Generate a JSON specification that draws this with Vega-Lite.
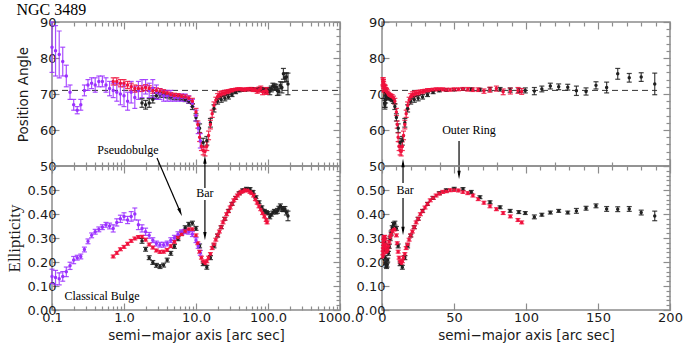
{
"$schema": "https://vega.github.io/schema/vega-lite/v6.json",
"background": "white",
"padding": {"left": 4, "top": 1, "right": 2, "bottom": 2},
"autosize": {"type": "pad"},
"bounds": "flush",
"columns": 2,
"spacing": {"row": 0, "column": 42},
"config": {
  "view": {"stroke": "#8c8c8c", "strokeWidth": 1.5},
  "axis": {"domain": false, "grid": false, "tickColor": "#8c8c8c", "tickWidth": 1.2, "labelFont": "DejaVu Sans", "labelFontSize": 13, "labelColor": "#1a1a1a", "titleFont": "DejaVu Sans", "titleFontSize": 13.5, "titleFontWeight": "normal", "titleColor": "#1a1a1a"}
},
"datasets": {
  "prof": [
    {"s":"k","r":1.778,"pa":67.5,"pae":1.2,"e":0.288,"ee":0.01},
    {"s":"k","r":1.995,"pa":67,"pae":1.2,"e":0.253,"ee":0.008},
    {"s":"k","r":2.239,"pa":67.5,"pae":1.2,"e":0.218,"ee":0.008},
    {"s":"k","r":2.512,"pa":68.5,"pae":1,"e":0.198,"ee":0.008},
    {"s":"k","r":2.818,"pa":69.5,"pae":0.8,"e":0.186,"ee":0.008},
    {"s":"k","r":3.162,"pa":69.8,"pae":0.7,"e":0.181,"ee":0.008},
    {"s":"k","r":3.548,"pa":69.8,"pae":0.7,"e":0.187,"ee":0.008},
    {"s":"k","r":3.981,"pa":69.5,"pae":0.6,"e":0.208,"ee":0.008},
    {"s":"k","r":4.467,"pa":69.2,"pae":0.6,"e":0.236,"ee":0.008},
    {"s":"k","r":5.012,"pa":69,"pae":0.6,"e":0.265,"ee":0.008},
    {"s":"k","r":5.623,"pa":69,"pae":0.6,"e":0.297,"ee":0.008},
    {"s":"k","r":6.31,"pa":68.8,"pae":0.6,"e":0.321,"ee":0.008},
    {"s":"k","r":7.079,"pa":68.5,"pae":0.6,"e":0.343,"ee":0.008},
    {"s":"k","r":7.943,"pa":68,"pae":0.6,"e":0.357,"ee":0.008},
    {"s":"k","r":8.913,"pa":66.5,"pae":0.8,"e":0.362,"ee":0.008},
    {"s":"k","r":10.0,"pa":63.5,"pae":1,"e":0.34,"ee":0.008},
    {"s":"k","r":11.22,"pa":60.5,"pae":1.2,"e":0.267,"ee":0.008},
    {"s":"k","r":12.59,"pa":56.5,"pae":1.2,"e":0.193,"ee":0.008},
    {"s":"k","r":14.13,"pa":57,"pae":1.2,"e":0.178,"ee":0.008},
    {"s":"k","r":15.85,"pa":62,"pae":1.2,"e":0.218,"ee":0.008},
    {"s":"k","r":17.78,"pa":66,"pae":1,"e":0.267,"ee":0.008},
    {"s":"k","r":19.95,"pa":68,"pae":0.8,"e":0.31,"ee":0.006},
    {"s":"k","r":22.39,"pa":68.5,"pae":0.8,"e":0.345,"ee":0.006},
    {"s":"k","r":25.12,"pa":68.8,"pae":0.7,"e":0.38,"ee":0.006},
    {"s":"k","r":28.18,"pa":69.2,"pae":0.6,"e":0.413,"ee":0.006},
    {"s":"k","r":31.62,"pa":69.8,"pae":0.5,"e":0.442,"ee":0.006},
    {"s":"k","r":35.48,"pa":70.5,"pae":0.4,"e":0.467,"ee":0.006},
    {"s":"k","r":39.81,"pa":71,"pae":0.4,"e":0.487,"ee":0.006},
    {"s":"k","r":44.67,"pa":71.1,"pae":0.3,"e":0.499,"ee":0.006},
    {"s":"k","r":50.12,"pa":71.2,"pae":0.3,"e":0.505,"ee":0.006},
    {"s":"k","r":56.23,"pa":71.3,"pae":0.3,"e":0.504,"ee":0.006},
    {"s":"k","r":62,"pa":71.3,"pae":0.4,"e":0.492,"ee":0.006},
    {"s":"k","r":68,"pa":71.2,"pae":0.4,"e":0.47,"ee":0.006},
    {"s":"k","r":75,"pa":71.3,"pae":0.5,"e":0.449,"ee":0.006},
    {"s":"k","r":82,"pa":71.3,"pae":0.5,"e":0.428,"ee":0.006},
    {"s":"k","r":89,"pa":71.1,"pae":0.6,"e":0.413,"ee":0.006},
    {"s":"k","r":95,"pa":71.0,"pae":0.6,"e":0.408,"ee":0.006},
    {"s":"k","r":99.5,"pa":71.0,"pae":0.7,"e":0.404,"ee":0.006},
    {"s":"k","r":105.8,"pa":70.8,"pae":1,"e":0.388,"ee":0.008},
    {"s":"k","r":111,"pa":71.4,"pae":0.8,"e":0.397,"ee":0.006},
    {"s":"k","r":116.9,"pa":72.2,"pae":0.8,"e":0.406,"ee":0.006},
    {"s":"k","r":122.7,"pa":72,"pae":0.8,"e":0.413,"ee":0.006},
    {"s":"k","r":129,"pa":71.9,"pae":0.8,"e":0.406,"ee":0.006},
    {"s":"k","r":135,"pa":70.9,"pae":1.3,"e":0.413,"ee":0.01},
    {"s":"k","r":141.7,"pa":70.7,"pae":1,"e":0.424,"ee":0.008},
    {"s":"k","r":148.6,"pa":72.4,"pae":1,"e":0.434,"ee":0.008},
    {"s":"k","r":156,"pa":71.8,"pae":1.5,"e":0.421,"ee":0.01},
    {"s":"k","r":163.7,"pa":75.6,"pae":1.5,"e":0.42,"ee":0.01},
    {"s":"k","r":171.7,"pa":74.5,"pae":1.2,"e":0.421,"ee":0.01},
    {"s":"k","r":180,"pa":74.7,"pae":1.2,"e":0.406,"ee":0.01},
    {"s":"k","r":189.4,"pa":72.8,"pae":3,"e":0.392,"ee":0.02},
    {"s":"p","r":0.1,"pa":83,"pae":7,"e":0.14,"ee":0.03},
    {"s":"p","r":0.112,"pa":82,"pae":7,"e":0.135,"ee":0.03},
    {"s":"p","r":0.126,"pa":81,"pae":6.5,"e":0.13,"ee":0.025},
    {"s":"p","r":0.141,"pa":79,"pae":4,"e":0.14,"ee":0.02},
    {"s":"p","r":0.158,"pa":75,"pae":3,"e":0.159,"ee":0.02},
    {"s":"p","r":0.178,"pa":70.5,"pae":2,"e":0.184,"ee":0.015},
    {"s":"p","r":0.2,"pa":67,"pae":1.5,"e":0.208,"ee":0.015},
    {"s":"p","r":0.224,"pa":65.5,"pae":1,"e":0.218,"ee":0.01},
    {"s":"p","r":0.251,"pa":67,"pae":1.5,"e":0.223,"ee":0.01},
    {"s":"p","r":0.282,"pa":71,"pae":1.5,"e":0.252,"ee":0.01},
    {"s":"p","r":0.316,"pa":72.5,"pae":1.5,"e":0.286,"ee":0.01},
    {"s":"p","r":0.355,"pa":73,"pae":1.5,"e":0.311,"ee":0.01},
    {"s":"p","r":0.398,"pa":72.5,"pae":2,"e":0.326,"ee":0.01},
    {"s":"p","r":0.447,"pa":73.5,"pae":1.5,"e":0.336,"ee":0.01},
    {"s":"p","r":0.501,"pa":73.5,"pae":1.5,"e":0.345,"ee":0.01},
    {"s":"p","r":0.562,"pa":72.5,"pae":2,"e":0.355,"ee":0.01},
    {"s":"p","r":0.631,"pa":71.5,"pae":2,"e":0.35,"ee":0.012},
    {"s":"p","r":0.708,"pa":71,"pae":2,"e":0.34,"ee":0.015},
    {"s":"p","r":0.794,"pa":70.5,"pae":2.5,"e":0.365,"ee":0.015},
    {"s":"p","r":0.891,"pa":70,"pae":3,"e":0.38,"ee":0.015},
    {"s":"p","r":1.0,"pa":69.5,"pae":3,"e":0.39,"ee":0.015},
    {"s":"p","r":1.122,"pa":68,"pae":2.5,"e":0.375,"ee":0.015},
    {"s":"p","r":1.259,"pa":70.5,"pae":3,"e":0.39,"ee":0.02},
    {"s":"p","r":1.413,"pa":69,"pae":3,"e":0.4,"ee":0.025},
    {"s":"p","r":1.585,"pa":71,"pae":2.5,"e":0.355,"ee":0.02},
    {"s":"p","r":1.778,"pa":71.5,"pae":2.5,"e":0.34,"ee":0.015},
    {"s":"p","r":1.995,"pa":72,"pae":2,"e":0.326,"ee":0.015},
    {"s":"p","r":2.239,"pa":71,"pae":2,"e":0.311,"ee":0.012},
    {"s":"p","r":2.512,"pa":71.5,"pae":2.5,"e":0.291,"ee":0.01},
    {"s":"p","r":2.818,"pa":70.5,"pae":2,"e":0.277,"ee":0.01},
    {"s":"p","r":3.162,"pa":70,"pae":1.5,"e":0.272,"ee":0.01},
    {"s":"p","r":3.548,"pa":69.5,"pae":1.5,"e":0.272,"ee":0.01},
    {"s":"p","r":3.981,"pa":69.5,"pae":1.5,"e":0.277,"ee":0.01},
    {"s":"p","r":4.467,"pa":69.5,"pae":1.5,"e":0.291,"ee":0.01},
    {"s":"p","r":5.012,"pa":69,"pae":1,"e":0.301,"ee":0.01},
    {"s":"p","r":5.623,"pa":69,"pae":1,"e":0.316,"ee":0.01},
    {"s":"p","r":6.31,"pa":69,"pae":1,"e":0.324,"ee":0.01},
    {"s":"p","r":7.079,"pa":69,"pae":1,"e":0.328,"ee":0.01},
    {"s":"p","r":7.943,"pa":68.5,"pae":1,"e":0.326,"ee":0.01},
    {"s":"p","r":8.913,"pa":67.5,"pae":1,"e":0.316,"ee":0.01},
    {"s":"p","r":10.0,"pa":64,"pae":1.5,"e":0.291,"ee":0.01},
    {"s":"p","r":10.72,"pa":60.5,"pae":1.5,"e":0.267,"ee":0.01},
    {"s":"p","r":11.48,"pa":57,"pae":2,"e":0.238,"ee":0.01},
    {"s":"r","r":0.708,"pa":73.5,"pae":1,"e":0.223,"ee":0.006},
    {"s":"r","r":0.794,"pa":73.5,"pae":1,"e":0.238,"ee":0.006},
    {"s":"r","r":0.891,"pa":73,"pae":1,"e":0.253,"ee":0.006},
    {"s":"r","r":1.0,"pa":73,"pae":1,"e":0.263,"ee":0.006},
    {"s":"r","r":1.122,"pa":72.5,"pae":1,"e":0.276,"ee":0.006},
    {"s":"r","r":1.259,"pa":72,"pae":1,"e":0.288,"ee":0.006},
    {"s":"r","r":1.413,"pa":71.5,"pae":1,"e":0.298,"ee":0.006},
    {"s":"r","r":1.585,"pa":71.5,"pae":0.8,"e":0.304,"ee":0.006},
    {"s":"r","r":1.778,"pa":71.5,"pae":0.8,"e":0.305,"ee":0.006},
    {"s":"r","r":1.995,"pa":71.8,"pae":0.8,"e":0.293,"ee":0.006},
    {"s":"r","r":2.239,"pa":71.5,"pae":0.8,"e":0.273,"ee":0.006},
    {"s":"r","r":2.512,"pa":71,"pae":0.8,"e":0.26,"ee":0.006},
    {"s":"r","r":2.818,"pa":71,"pae":0.7,"e":0.248,"ee":0.006},
    {"s":"r","r":3.162,"pa":70.8,"pae":0.7,"e":0.242,"ee":0.006},
    {"s":"r","r":3.548,"pa":70.5,"pae":0.7,"e":0.243,"ee":0.006},
    {"s":"r","r":3.981,"pa":70.2,"pae":0.6,"e":0.25,"ee":0.006},
    {"s":"r","r":4.467,"pa":69.8,"pae":0.6,"e":0.266,"ee":0.006},
    {"s":"r","r":5.012,"pa":69.6,"pae":0.6,"e":0.284,"ee":0.006},
    {"s":"r","r":5.623,"pa":69.5,"pae":0.6,"e":0.302,"ee":0.006},
    {"s":"r","r":6.31,"pa":69.3,"pae":0.6,"e":0.316,"ee":0.006},
    {"s":"r","r":7.079,"pa":69.2,"pae":0.6,"e":0.328,"ee":0.006},
    {"s":"r","r":7.943,"pa":68.8,"pae":0.6,"e":0.336,"ee":0.006},
    {"s":"r","r":8.913,"pa":68,"pae":0.8,"e":0.336,"ee":0.006},
    {"s":"r","r":10.0,"pa":65,"pae":1,"e":0.311,"ee":0.006},
    {"s":"r","r":10.59,"pa":61.5,"pae":1,"e":0.278,"ee":0.006},
    {"s":"r","r":11.22,"pa":58,"pae":1.2,"e":0.243,"ee":0.006},
    {"s":"r","r":11.89,"pa":55.5,"pae":1.2,"e":0.218,"ee":0.006},
    {"s":"r","r":12.59,"pa":54.3,"pae":1.2,"e":0.201,"ee":0.006},
    {"s":"r","r":13.34,"pa":54,"pae":1.2,"e":0.195,"ee":0.006},
    {"s":"r","r":14.13,"pa":55.5,"pae":1.2,"e":0.203,"ee":0.006},
    {"s":"r","r":14.96,"pa":58.5,"pae":1.2,"e":0.218,"ee":0.006},
    {"s":"r","r":15.85,"pa":61.5,"pae":1.2,"e":0.233,"ee":0.006},
    {"s":"r","r":16.79,"pa":64.5,"pae":1,"e":0.258,"ee":0.006},
    {"s":"r","r":17.78,"pa":66.8,"pae":1,"e":0.273,"ee":0.006},
    {"s":"r","r":18.84,"pa":68.3,"pae":0.8,"e":0.293,"ee":0.006},
    {"s":"r","r":19.95,"pa":69.3,"pae":0.8,"e":0.311,"ee":0.006},
    {"s":"r","r":21.13,"pa":69.8,"pae":0.8,"e":0.327,"ee":0.006},
    {"s":"r","r":22.39,"pa":70,"pae":0.8,"e":0.345,"ee":0.006},
    {"s":"r","r":23.71,"pa":70.2,"pae":0.7,"e":0.365,"ee":0.006},
    {"s":"r","r":25.12,"pa":70.3,"pae":0.7,"e":0.38,"ee":0.006},
    {"s":"r","r":26.61,"pa":70.5,"pae":0.6,"e":0.399,"ee":0.006},
    {"s":"r","r":28.18,"pa":70.6,"pae":0.6,"e":0.412,"ee":0.006},
    {"s":"r","r":29.85,"pa":70.8,"pae":0.5,"e":0.427,"ee":0.006},
    {"s":"r","r":31.62,"pa":71,"pae":0.5,"e":0.442,"ee":0.006},
    {"s":"r","r":33.5,"pa":71.1,"pae":0.4,"e":0.457,"ee":0.006},
    {"s":"r","r":35.48,"pa":71.2,"pae":0.4,"e":0.467,"ee":0.006},
    {"s":"r","r":37.58,"pa":71.3,"pae":0.4,"e":0.477,"ee":0.006},
    {"s":"r","r":39.81,"pa":71.3,"pae":0.4,"e":0.485,"ee":0.006},
    {"s":"r","r":42.17,"pa":71.3,"pae":0.4,"e":0.492,"ee":0.006},
    {"s":"r","r":44.67,"pa":71.2,"pae":0.4,"e":0.495,"ee":0.006},
    {"s":"r","r":47.32,"pa":71.2,"pae":0.4,"e":0.499,"ee":0.006},
    {"s":"r","r":50.12,"pa":71.3,"pae":0.4,"e":0.5,"ee":0.006},
    {"s":"r","r":53.09,"pa":71.3,"pae":0.4,"e":0.498,"ee":0.006},
    {"s":"r","r":56.23,"pa":71.4,"pae":0.4,"e":0.492,"ee":0.006},
    {"s":"r","r":59.57,"pa":71.3,"pae":0.5,"e":0.487,"ee":0.006},
    {"s":"r","r":63.1,"pa":71.2,"pae":0.5,"e":0.477,"ee":0.006},
    {"s":"r","r":66.83,"pa":71.2,"pae":0.5,"e":0.462,"ee":0.006},
    {"s":"r","r":70.79,"pa":70.8,"pae":0.6,"e":0.447,"ee":0.006},
    {"s":"r","r":74.99,"pa":71.2,"pae":0.7,"e":0.432,"ee":0.006},
    {"s":"r","r":79.43,"pa":71.5,"pae":0.7,"e":0.42,"ee":0.006},
    {"s":"r","r":84.14,"pa":70.6,"pae":0.8,"e":0.404,"ee":0.006},
    {"s":"r","r":89.13,"pa":70.8,"pae":0.8,"e":0.39,"ee":0.006},
    {"s":"r","r":94.41,"pa":71,"pae":0.8,"e":0.375,"ee":0.006},
    {"s":"r","r":97,"pa":70.7,"pae":0.8,"e":0.365,"ee":0.006}
  ],
  "ref": [
    {"p":"L","r":0.1,"r2":1000,"v":71},
    {"p":"R","r":0,"r2":191,"v":71}
  ],
  "notes": [
    {"p":"TL","r":1.137,"v":54.4,"t":"Pseudobulge"},
    {"p":"BL","r":0.495,"v":0.058,"t":"Classical Bulge"},
    {"p":"BL","r":13.3,"v":0.4875,"t":"Bar"},
    {"p":"BR","r":16,"v":0.5,"t":"Bar"},
    {"p":"TR","r":60.4,"v":60,"t":"Outer Ring"}
  ],
  "lines": [
    {"p":"BL","r":2.87,"v":0.633,"r2":6.07,"v2":0.407},
    {"p":"BL","r":13.3,"v":0.508,"r2":13.3,"v2":0.627},
    {"p":"BL","r":13.3,"v":0.458,"r2":13.3,"v2":0.308},
    {"p":"BR","r":14.6,"v":0.529,"r2":14.6,"v2":0.6125},
    {"p":"BR","r":14.6,"v":0.467,"r2":14.6,"v2":0.329},
    {"p":"TR","r":53.5,"v":56.94,"r2":53.5,"v2":47.5}
  ],
  "heads": [
    {"p":"BL","r":6.07,"v":0.407,"a":-23},
    {"p":"BL","r":13.3,"v":0.627,"a":180},
    {"p":"BL","r":13.3,"v":0.308,"a":0},
    {"p":"BR","r":14.6,"v":0.6125,"a":180},
    {"p":"BR","r":14.6,"v":0.329,"a":0},
    {"p":"TR","r":53.5,"v":47.5,"a":0}
  ]
},
"concat": [
    {
      "width": 288, "height": 144,
      "title": {"text": "NGC 3489", "anchor": "start", "font": "Liberation Serif", "fontSize": 16, "fontWeight": "normal", "color": "black", "offset": -2},
      "resolve": {"axis": {"x": "independent", "y": "independent"}},
      "layer": [
        {"layer": [
          {"data": {"name": "ref"}, "transform": [{"filter": "datum.p == 'L'"}],
           "mark": {"type": "rule", "strokeDash": [6, 4], "color": "#333333", "strokeWidth": 1},
           "encoding": {
             "x": {"field": "r", "type": "quantitative", "scale": {"type": "log", "domain": [0.1, 1000]},
               "axis": {"orient": "bottom", "labels": false, "title": null,
                 "values": [0.1,0.2,0.3,0.4,0.5,0.6,0.7,0.8,0.9,1,2,3,4,5,6,7,8,9,10,20,30,40,50,60,70,80,90,100,200,300,400,500,600,700,800,900,1000],
                 "tickSize": {"condition": {"test": "indexof([0.1,1,10,100,1000], datum.value) >= 0", "value": -7}, "value": -4}}},
             "x2": {"field": "r2"},
             "y": {"field": "v", "type": "quantitative", "scale": {"domain": [50, 90]},
               "axis": {"orient": "left", "title": "Position Angle", "titlePadding": 9, "labelPadding": 3, "labelOverlap": false,
                 "values": [50,70,90], "tickSize": -7}}
           }},
          {"data": {"name": "prof"},
           "mark": {"type": "errorbar", "ticks": {"size": 5}, "thickness": 1.2, "opacity": 0.85},
           "encoding": {
             "x": {"field": "r", "type": "quantitative", "scale": {"type": "log", "domain": [0.1, 1000]}, "title": null},
             "y": {"field": "pa", "type": "quantitative", "scale": {"domain": [50, 90]}, "title": "Position Angle"},
             "yError": {"field": "pae"},
             "color": {"field": "s", "type": "nominal", "scale": {"domain": ["k", "p", "r"], "range": ["#202020", "#9b30ff", "#f0103c"]}, "legend": null}
           }},
          {"data": {"name": "prof"},
           "mark": {"type": "point", "filled": true, "size": 12, "opacity": 1},
           "encoding": {
             "x": {"field": "r", "type": "quantitative", "scale": {"type": "log", "domain": [0.1, 1000]}, "title": null},
             "y": {"field": "pa", "type": "quantitative", "scale": {"domain": [50, 90]}, "title": "Position Angle"},
             "color": {"field": "s", "type": "nominal", "scale": {"domain": ["k", "p", "r"], "range": ["#202020", "#9b30ff", "#f0103c"]}, "legend": null}
           }},
          {"data": {"name": "notes"}, "transform": [{"filter": "datum.p == 'TL'"}],
           "mark": {"type": "text", "font": "Liberation Serif", "fontSize": 12, "color": "black"},
           "encoding": {
             "x": {"field": "r", "type": "quantitative", "scale": {"type": "log", "domain": [0.1, 1000]}, "title": null},
             "y": {"field": "v", "type": "quantitative", "scale": {"domain": [50, 90]}, "title": "Position Angle"},
             "text": {"field": "t"}
           }}
        ]},
        {"data": {"name": "prof"},
         "mark": {"type": "point", "opacity": 0},
         "encoding": {
           "x": {"field": "r", "type": "quantitative", "scale": {"type": "log", "domain": [0.1, 1000]},
             "axis": {"orient": "top", "labels": false, "title": null,
               "values": [0.1,0.2,0.3,0.4,0.5,0.6,0.7,0.8,0.9,1,2,3,4,5,6,7,8,9,10,20,30,40,50,60,70,80,90,100,200,300,400,500,600,700,800,900,1000],
               "tickSize": {"condition": {"test": "indexof([0.1,1,10,100,1000], datum.value) >= 0", "value": -7}, "value": -4}}},
           "y": {"field": "pa", "type": "quantitative", "scale": {"domain": [50, 90]},
             "axis": {"orient": "right", "labels": false, "title": null,
               "values": [50,52,54,56,58,60,62,64,66,68,70,72,74,76,78,80,82,84,86,88,90],
               "tickSize": {"condition": {"test": "indexof([50,60,70,80,90], datum.value) >= 0", "value": -7}, "value": -4}}}
         }},
        {"data": {"name": "prof"},
         "mark": {"type": "point", "opacity": 0},
         "encoding": {
           "x": {"field": "r", "type": "quantitative", "scale": {"type": "log", "domain": [0.1, 1000]}, "axis": null},
           "y": {"field": "pa", "type": "quantitative", "scale": {"domain": [50, 90]},
             "axis": {"orient": "left", "title": null, "labelPadding": 3, "labelOverlap": false,
               "values": [60,80], "tickSize": -7}}
         }}
      ]
    },
    {
      "width": 288, "height": 144,
      "resolve": {"axis": {"x": "independent", "y": "independent"}},
      "layer": [
        {"layer": [
          {"data": {"name": "ref"}, "transform": [{"filter": "datum.p == 'R'"}],
           "mark": {"type": "rule", "strokeDash": [6, 4], "color": "#333333", "strokeWidth": 1},
           "encoding": {
             "x": {"field": "r", "type": "quantitative", "scale": {"domain": [0, 200]},
               "axis": {"orient": "bottom", "labels": false, "title": null,
                 "values": [0,10,20,30,40,50,60,70,80,90,100,110,120,130,140,150,160,170,180,190,200],
                 "tickSize": {"condition": {"test": "indexof([0,50,100,150,200], datum.value) >= 0", "value": -7}, "value": -4}}},
             "x2": {"field": "r2"},
             "y": {"field": "v", "type": "quantitative", "scale": {"domain": [50, 90]},
               "axis": {"orient": "left", "title": null, "labelPadding": 4, "labelOverlap": false,
                 "values": [50,70,90], "tickSize": -7}}
           }},
          {"data": {"name": "prof"}, "transform": [{"filter": "datum.s != 'p'"}],
           "mark": {"type": "errorbar", "ticks": {"size": 5}, "thickness": 1.2, "opacity": 0.85},
           "encoding": {
             "x": {"field": "r", "type": "quantitative", "scale": {"domain": [0, 200]}, "title": null},
             "y": {"field": "pa", "type": "quantitative", "scale": {"domain": [50, 90]}, "title": null},
             "yError": {"field": "pae"},
             "color": {"field": "s", "type": "nominal", "scale": {"domain": ["k", "p", "r"], "range": ["#202020", "#9b30ff", "#f0103c"]}, "legend": null}
           }},
          {"data": {"name": "prof"}, "transform": [{"filter": "datum.s != 'p'"}],
           "mark": {"type": "point", "filled": true, "size": 12, "opacity": 1},
           "encoding": {
             "x": {"field": "r", "type": "quantitative", "scale": {"domain": [0, 200]}, "title": null},
             "y": {"field": "pa", "type": "quantitative", "scale": {"domain": [50, 90]}, "title": null},
             "color": {"field": "s", "type": "nominal", "scale": {"domain": ["k", "p", "r"], "range": ["#202020", "#9b30ff", "#f0103c"]}, "legend": null}
           }},
          {"data": {"name": "lines"}, "transform": [{"filter": "datum.p == 'TR'"}],
           "mark": {"type": "rule", "color": "black", "strokeWidth": 1.2},
           "encoding": {
             "x": {"field": "r", "type": "quantitative", "scale": {"domain": [0, 200]}, "title": null},
             "y": {"field": "v", "type": "quantitative", "scale": {"domain": [50, 90]}, "title": null},
             "x2": {"field": "r2"},
             "y2": {"field": "v2"}
           }},
          {"data": {"name": "heads"}, "transform": [{"filter": "datum.p == 'TR'"}],
           "mark": {"type": "point", "shape": "M0,1L-0.4,-1L0.4,-1Z", "filled": true, "size": 70, "color": "black", "opacity": 1},
           "encoding": {
             "x": {"field": "r", "type": "quantitative", "scale": {"domain": [0, 200]}, "title": null},
             "y": {"field": "v", "type": "quantitative", "scale": {"domain": [50, 90]}, "title": null},
             "angle": {"field": "a", "type": "quantitative", "scale": null}
           }},
          {"data": {"name": "notes"}, "transform": [{"filter": "datum.p == 'TR'"}],
           "mark": {"type": "text", "font": "Liberation Serif", "fontSize": 12, "color": "black"},
           "encoding": {
             "x": {"field": "r", "type": "quantitative", "scale": {"domain": [0, 200]}, "title": null},
             "y": {"field": "v", "type": "quantitative", "scale": {"domain": [50, 90]}, "title": null},
             "text": {"field": "t"}
           }}
        ]},
        {"data": {"name": "prof"},
         "mark": {"type": "point", "opacity": 0},
         "encoding": {
           "x": {"field": "r", "type": "quantitative", "scale": {"domain": [0, 200]},
             "axis": {"orient": "top", "labels": false, "title": null,
               "values": [0,10,20,30,40,50,60,70,80,90,100,110,120,130,140,150,160,170,180,190,200],
               "tickSize": {"condition": {"test": "indexof([0,50,100,150,200], datum.value) >= 0", "value": -7}, "value": -4}}},
           "y": {"field": "pa", "type": "quantitative", "scale": {"domain": [50, 90]},
             "axis": {"orient": "right", "labels": false, "title": null,
               "values": [50,52,54,56,58,60,62,64,66,68,70,72,74,76,78,80,82,84,86,88,90],
               "tickSize": {"condition": {"test": "indexof([50,60,70,80,90], datum.value) >= 0", "value": -7}, "value": -4}}}
         }},
        {"data": {"name": "prof"},
         "mark": {"type": "point", "opacity": 0},
         "encoding": {
           "x": {"field": "r", "type": "quantitative", "scale": {"domain": [0, 200]}, "axis": null},
           "y": {"field": "pa", "type": "quantitative", "scale": {"domain": [50, 90]},
             "axis": {"orient": "left", "title": null, "labelPadding": 4, "labelOverlap": false,
               "values": [60,80], "tickSize": -7}}
         }}
      ]
    },
    {
      "width": 288, "height": 144,
      "resolve": {"axis": {"x": "independent", "y": "independent"}},
      "layer": [
        {"layer": [
          {"data": {"name": "prof"},
           "mark": {"type": "errorbar", "ticks": {"size": 5}, "thickness": 1.2, "opacity": 0.85},
           "encoding": {
             "x": {"field": "r", "type": "quantitative", "scale": {"type": "log", "domain": [0.1, 1000]},
               "axis": {"orient": "bottom", "title": "semi−major axis [arc sec]", "titlePadding": 4, "labelPadding": 8, "labelFlush": false,
                 "values": [0.1,0.2,0.3,0.4,0.5,0.6,0.7,0.8,0.9,1,2,3,4,5,6,7,8,9,10,20,30,40,50,60,70,80,90,100,200,300,400,500,600,700,800,900,1000],
                 "labelExpr": "indexof([0.1,1,10,100,1000], datum.value) >= 0 ? format(datum.value, '.1f') : ''",
                 "tickSize": {"condition": {"test": "indexof([0.1,1,10,100,1000], datum.value) >= 0", "value": -7}, "value": -4}}},
             "y": {"field": "e", "type": "quantitative", "scale": {"domain": [0, 0.6]},
               "axis": {"orient": "left", "title": "Ellipticity", "titleFont": "Liberation Serif", "titleFontSize": 17, "titlePadding": 4, "labelPadding": 3, "labelOverlap": false,
                 "values": [0,0.2,0.4], "format": ".2f", "tickSize": -7}},
             "yError": {"field": "ee"},
             "color": {"field": "s", "type": "nominal", "scale": {"domain": ["k", "p", "r"], "range": ["#202020", "#9b30ff", "#f0103c"]}, "legend": null}
           }},
          {"data": {"name": "prof"},
           "mark": {"type": "point", "filled": true, "size": 12, "opacity": 1},
           "encoding": {
             "x": {"field": "r", "type": "quantitative", "scale": {"type": "log", "domain": [0.1, 1000]}, "title": "semi−major axis [arc sec]"},
             "y": {"field": "e", "type": "quantitative", "scale": {"domain": [0, 0.6]}, "title": "Ellipticity"},
             "color": {"field": "s", "type": "nominal", "scale": {"domain": ["k", "p", "r"], "range": ["#202020", "#9b30ff", "#f0103c"]}, "legend": null}
           }},
          {"data": {"name": "lines"}, "transform": [{"filter": "datum.p == 'BL'"}],
           "mark": {"type": "rule", "color": "black", "strokeWidth": 1.2},
           "encoding": {
             "x": {"field": "r", "type": "quantitative", "scale": {"type": "log", "domain": [0.1, 1000]}, "title": "semi−major axis [arc sec]"},
             "y": {"field": "v", "type": "quantitative", "scale": {"domain": [0, 0.6]}, "title": "Ellipticity"},
             "x2": {"field": "r2"},
             "y2": {"field": "v2"}
           }},
          {"data": {"name": "heads"}, "transform": [{"filter": "datum.p == 'BL'"}],
           "mark": {"type": "point", "shape": "M0,1L-0.4,-1L0.4,-1Z", "filled": true, "size": 70, "color": "black", "opacity": 1},
           "encoding": {
             "x": {"field": "r", "type": "quantitative", "scale": {"type": "log", "domain": [0.1, 1000]}, "title": "semi−major axis [arc sec]"},
             "y": {"field": "v", "type": "quantitative", "scale": {"domain": [0, 0.6]}, "title": "Ellipticity"},
             "angle": {"field": "a", "type": "quantitative", "scale": null}
           }},
          {"data": {"name": "notes"}, "transform": [{"filter": "datum.p == 'BL'"}],
           "mark": {"type": "text", "font": "Liberation Serif", "fontSize": 12, "color": "black"},
           "encoding": {
             "x": {"field": "r", "type": "quantitative", "scale": {"type": "log", "domain": [0.1, 1000]}, "title": "semi−major axis [arc sec]"},
             "y": {"field": "v", "type": "quantitative", "scale": {"domain": [0, 0.6]}, "title": "Ellipticity"},
             "text": {"field": "t"}
           }}
        ]},
        {"data": {"name": "prof"},
         "mark": {"type": "point", "opacity": 0},
         "encoding": {
           "x": {"field": "r", "type": "quantitative", "scale": {"type": "log", "domain": [0.1, 1000]},
             "axis": {"orient": "top", "labels": false, "title": null,
               "values": [0.1,0.2,0.3,0.4,0.5,0.6,0.7,0.8,0.9,1,2,3,4,5,6,7,8,9,10,20,30,40,50,60,70,80,90,100,200,300,400,500,600,700,800,900,1000],
               "tickSize": {"condition": {"test": "indexof([0.1,1,10,100,1000], datum.value) >= 0", "value": -7}, "value": -4}}},
           "y": {"field": "e", "type": "quantitative", "scale": {"domain": [0, 0.6]},
             "axis": {"orient": "right", "labels": false, "title": null,
               "values": [0,0.02,0.04,0.06,0.08,0.1,0.12,0.14,0.16,0.18,0.2,0.22,0.24,0.26,0.28,0.3,0.32,0.34,0.36,0.38,0.4,0.42,0.44,0.46,0.48,0.5,0.52,0.54,0.56,0.58,0.6],
               "tickSize": {"condition": {"test": "indexof([0,0.1,0.2,0.3,0.4,0.5,0.6], datum.value) >= 0", "value": -7}, "value": -4}}}
         }},
        {"data": {"name": "prof"},
         "mark": {"type": "point", "opacity": 0},
         "encoding": {
           "x": {"field": "r", "type": "quantitative", "scale": {"type": "log", "domain": [0.1, 1000]}, "axis": null},
           "y": {"field": "e", "type": "quantitative", "scale": {"domain": [0, 0.6]},
             "axis": {"orient": "left", "title": null, "labelPadding": 3, "labelOverlap": false,
               "values": [0.1,0.3,0.5], "format": ".2f", "tickSize": -7}}
         }}
      ]
    },
    {
      "width": 288, "height": 144,
      "resolve": {"axis": {"x": "independent", "y": "independent"}},
      "layer": [
        {"layer": [
          {"data": {"name": "prof"}, "transform": [{"filter": "datum.s != 'p'"}],
           "mark": {"type": "errorbar", "ticks": {"size": 5}, "thickness": 1.2, "opacity": 0.85},
           "encoding": {
             "x": {"field": "r", "type": "quantitative", "scale": {"domain": [0, 200]},
               "axis": {"orient": "bottom", "title": "semi−major axis [arc sec]", "titlePadding": 4, "labelPadding": 8, "labelOverlap": false, "labelFlush": false,
                 "values": [0,50,100,150,200], "tickSize": -7}},
             "y": {"field": "e", "type": "quantitative", "scale": {"domain": [0, 0.6]},
               "axis": {"orient": "left", "title": null, "labelPadding": 4, "labelOverlap": false,
                 "values": [0,0.2,0.4], "format": ".2f", "tickSize": -7}},
             "yError": {"field": "ee"},
             "color": {"field": "s", "type": "nominal", "scale": {"domain": ["k", "p", "r"], "range": ["#202020", "#9b30ff", "#f0103c"]}, "legend": null}
           }},
          {"data": {"name": "prof"}, "transform": [{"filter": "datum.s != 'p'"}],
           "mark": {"type": "point", "filled": true, "size": 12, "opacity": 1},
           "encoding": {
             "x": {"field": "r", "type": "quantitative", "scale": {"domain": [0, 200]}, "title": "semi−major axis [arc sec]"},
             "y": {"field": "e", "type": "quantitative", "scale": {"domain": [0, 0.6]}, "title": null},
             "color": {"field": "s", "type": "nominal", "scale": {"domain": ["k", "p", "r"], "range": ["#202020", "#9b30ff", "#f0103c"]}, "legend": null}
           }},
          {"data": {"name": "lines"}, "transform": [{"filter": "datum.p == 'BR'"}],
           "mark": {"type": "rule", "color": "black", "strokeWidth": 1.2},
           "encoding": {
             "x": {"field": "r", "type": "quantitative", "scale": {"domain": [0, 200]}, "title": "semi−major axis [arc sec]"},
             "y": {"field": "v", "type": "quantitative", "scale": {"domain": [0, 0.6]}, "title": null},
             "x2": {"field": "r2"},
             "y2": {"field": "v2"}
           }},
          {"data": {"name": "heads"}, "transform": [{"filter": "datum.p == 'BR'"}],
           "mark": {"type": "point", "shape": "M0,1L-0.4,-1L0.4,-1Z", "filled": true, "size": 70, "color": "black", "opacity": 1},
           "encoding": {
             "x": {"field": "r", "type": "quantitative", "scale": {"domain": [0, 200]}, "title": "semi−major axis [arc sec]"},
             "y": {"field": "v", "type": "quantitative", "scale": {"domain": [0, 0.6]}, "title": null},
             "angle": {"field": "a", "type": "quantitative", "scale": null}
           }},
          {"data": {"name": "notes"}, "transform": [{"filter": "datum.p == 'BR'"}],
           "mark": {"type": "text", "font": "Liberation Serif", "fontSize": 12, "color": "black"},
           "encoding": {
             "x": {"field": "r", "type": "quantitative", "scale": {"domain": [0, 200]}, "title": "semi−major axis [arc sec]"},
             "y": {"field": "v", "type": "quantitative", "scale": {"domain": [0, 0.6]}, "title": null},
             "text": {"field": "t"}
           }}
        ]},
        {"data": {"name": "prof"},
         "mark": {"type": "point", "opacity": 0},
         "encoding": {
           "x": {"field": "r", "type": "quantitative", "scale": {"domain": [0, 200]},
             "axis": {"orient": "top", "labels": false, "title": null,
               "values": [0,10,20,30,40,50,60,70,80,90,100,110,120,130,140,150,160,170,180,190,200],
               "tickSize": {"condition": {"test": "indexof([0,50,100,150,200], datum.value) >= 0", "value": -7}, "value": -4}}},
           "y": {"field": "e", "type": "quantitative", "scale": {"domain": [0, 0.6]},
             "axis": {"orient": "right", "labels": false, "title": null,
               "values": [0,0.02,0.04,0.06,0.08,0.1,0.12,0.14,0.16,0.18,0.2,0.22,0.24,0.26,0.28,0.3,0.32,0.34,0.36,0.38,0.4,0.42,0.44,0.46,0.48,0.5,0.52,0.54,0.56,0.58,0.6],
               "tickSize": {"condition": {"test": "indexof([0,0.1,0.2,0.3,0.4,0.5,0.6], datum.value) >= 0", "value": -7}, "value": -4}}}
         }},
        {"data": {"name": "prof"},
         "mark": {"type": "point", "opacity": 0},
         "encoding": {
           "x": {"field": "r", "type": "quantitative", "scale": {"domain": [0, 200]}, "axis": null},
           "y": {"field": "e", "type": "quantitative", "scale": {"domain": [0, 0.6]},
             "axis": {"orient": "left", "title": null, "labelPadding": 4, "labelOverlap": false,
               "values": [0.1,0.3,0.5], "format": ".2f", "tickSize": -7}}
         }}
      ]
    }
]
}
